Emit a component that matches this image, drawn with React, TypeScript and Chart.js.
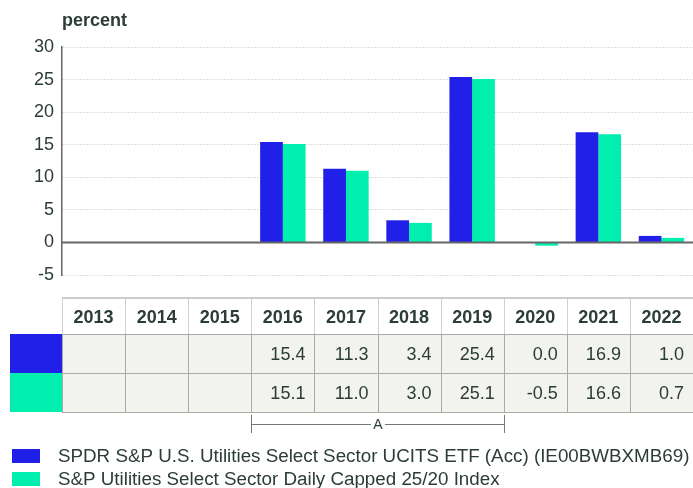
import React, { useEffect, useRef } from "react";
import { Chart, registerables } from "chart.js";

Chart.register(...registerables);

const categories = ["2013", "2014", "2015", "2016", "2017", "2018", "2019", "2020", "2021", "2022"];
const etfValues: (number | null)[] = [null, null, null, 15.4, 11.3, 3.4, 25.4, 0.0, 16.9, 1.0];
const indexValues: (number | null)[] = [null, null, null, 15.1, 11.0, 3.0, 25.1, -0.5, 16.6, 0.7];
const seriesNames = [
  "SPDR S&P U.S. Utilities Select Sector UCITS ETF (Acc) (IE00BWBXMB69)",
  "S&P Utilities Select Sector Daily Capped 25/20 Index",
];
const yMin = -5;
const yMax = 30;
const yStep = 5;
const yTitle = "percent";
const bracketLabel = "A";
const bracketFrom = "2016";
const bracketTo = "2019";

const BLUE = "#2020e8";
const GREEN = "#00efae";
const TEXT = "#2b3d35";
const FONT = "'Liberation Sans', Arial, sans-serif";

const overlayPlugin = {
  id: "overlay",
  afterDatasetsDraw(chart: any) {
    const { ctx, chartArea, scales } = chart;
    const y = scales.y;
    const y0 = Math.round(y.getPixelForValue(0)) + 0.5;
    ctx.save();
    ctx.strokeStyle = "#666";
    ctx.lineWidth = 2;
    ctx.beginPath();
    ctx.moveTo(chartArea.left, y0);
    ctx.lineTo(chartArea.right, y0);
    ctx.stroke();
    ctx.restore();
  },
  afterDraw(chart: any) {
    const { ctx, chartArea, scales } = chart;
    const x = scales.x;
    const n = categories.length;
    const cw = x.width / n;
    const colLeft = (i: number) => x.getPixelForValue(i) - cw / 2;
    ctx.save();

    // title
    ctx.fillStyle = TEXT;
    ctx.font = `bold 18px ${FONT}`;
    ctx.textAlign = "left";
    ctx.textBaseline = "middle";
    ctx.fillText(yTitle, chartArea.left, 21);

    // table
    const top = 298;
    const hh = 36;
    const rh = 39;
    const left = chartArea.left;
    const right = chartArea.right;
    const rowsTop = top + hh;
    const bottom = rowsTop + 2 * rh;

    ctx.fillStyle = "#f2f2ee";
    ctx.fillRect(left, rowsTop, right - left, 2 * rh);
    ctx.fillStyle = BLUE;
    ctx.fillRect(10, rowsTop, left - 10, rh);
    ctx.fillStyle = GREEN;
    ctx.fillRect(10, rowsTop + rh, left - 10, rh);

    ctx.strokeStyle = "#cccccc";
    ctx.lineWidth = 2;
    ctx.beginPath();
    ctx.moveTo(left, top);
    ctx.lineTo(right, top);
    ctx.stroke();

    ctx.lineWidth = 1;
    ctx.strokeStyle = "#d0d0d0";
    for (let i = 0; i < n; i++) {
      const xl = Math.round(colLeft(i)) + 0.5;
      ctx.beginPath();
      ctx.moveTo(xl, top);
      ctx.lineTo(xl, rowsTop);
      ctx.stroke();
    }
    ctx.strokeStyle = "#aaaaaa";
    for (let i = 0; i < n; i++) {
      const xl = Math.round(colLeft(i)) + 0.5;
      ctx.beginPath();
      ctx.moveTo(xl, rowsTop);
      ctx.lineTo(xl, bottom);
      ctx.stroke();
    }
    for (const yy of [rowsTop, rowsTop + rh, bottom]) {
      ctx.beginPath();
      ctx.moveTo(left, yy + 0.5);
      ctx.lineTo(right, yy + 0.5);
      ctx.stroke();
    }

    ctx.fillStyle = TEXT;
    ctx.font = `bold 18px ${FONT}`;
    ctx.textAlign = "center";
    ctx.textBaseline = "middle";
    categories.forEach((c, i) => {
      ctx.fillText(c, colLeft(i) + cw / 2, top + hh / 2 + 2);
    });
    ctx.font = `18px ${FONT}`;
    ctx.textAlign = "right";
    [etfValues, indexValues].forEach((arr, r) => {
      arr.forEach((v, i) => {
        if (v === null) return;
        ctx.fillText(v.toFixed(1), colLeft(i) + cw - 9, rowsTop + r * rh + rh / 2 + 2);
      });
    });

    // bracket
    const bi0 = categories.indexOf(bracketFrom);
    const bi1 = categories.indexOf(bracketTo);
    const bx0 = Math.round(colLeft(bi0)) + 0.5;
    const bx1 = Math.round(colLeft(bi1) + cw) + 0.5;
    const by = 424.5;
    const mid = (bx0 + bx1) / 2;
    ctx.strokeStyle = "#777";
    ctx.lineWidth = 1;
    ctx.beginPath();
    ctx.moveTo(bx0, 415);
    ctx.lineTo(bx0, 433);
    ctx.moveTo(bx1, 415);
    ctx.lineTo(bx1, 433);
    ctx.moveTo(bx0, by);
    ctx.lineTo(mid - 7, by);
    ctx.moveTo(mid + 7, by);
    ctx.lineTo(bx1, by);
    ctx.stroke();
    ctx.font = `14px ${FONT}`;
    ctx.textAlign = "center";
    ctx.fillStyle = TEXT;
    ctx.fillText(bracketLabel, mid, by + 1);

    // legend
    const legendY = [456, 479];
    const colors = [BLUE, GREEN];
    ctx.font = `18.8px ${FONT}`;
    ctx.textAlign = "left";
    seriesNames.forEach((name, i) => {
      ctx.fillStyle = colors[i];
      ctx.fillRect(12, legendY[i] - 7, 28, 14);
      ctx.fillStyle = TEXT;
      ctx.fillText(name, 58, legendY[i] + 1);
    });

    ctx.restore();
  },
};

export default function App() {
  const ref = useRef<HTMLCanvasElement | null>(null);
  useEffect(() => {
    if (!ref.current) return;
    const chart = new Chart(ref.current, {
      type: "bar",
      data: {
        labels: categories,
        datasets: [
          { label: seriesNames[0], data: etfValues, backgroundColor: BLUE, borderWidth: 0, barPercentage: 1, categoryPercentage: 0.72 },
          { label: seriesNames[1], data: indexValues, backgroundColor: GREEN, borderWidth: 0, barPercentage: 1, categoryPercentage: 0.72 },
        ],
      },
      options: {
        responsive: false,
        animation: false,
        devicePixelRatio: 1,
        layout: { padding: { top: 47, bottom: 488 - 275, left: 0, right: 0 } },
        plugins: { legend: { display: false }, tooltip: { enabled: false } },
        scales: {
          x: { display: false },
          y: {
            min: yMin,
            max: yMax,
            afterFit: (s: any) => {
              s.width = 62;
            },
            ticks: {
              stepSize: yStep,
              padding: 8,
              color: TEXT,
              font: { size: 18, family: FONT },
            },
            grid: { color: "#bdbdbd", lineWidth: 1, drawTicks: false },
            border: { display: true, color: "#666", width: 1.5, dash: [1, 2] },
          },
        },
      },
      plugins: [overlayPlugin],
    });
    return () => chart.destroy();
  }, []);
  return (
    <div style={{ position: "fixed", left: 0, top: 0, width: 693, height: 488, background: "#fff" }}>
      <canvas ref={ref} width={693} height={488} style={{ display: "block", width: 693, height: 488 }} />
    </div>
  );
}
